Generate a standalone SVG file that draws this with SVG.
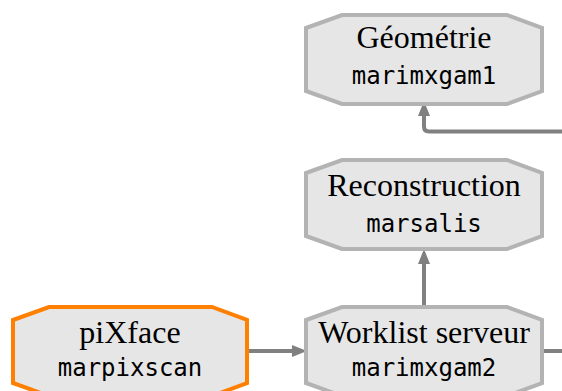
<svg xmlns="http://www.w3.org/2000/svg" width="562" height="391" viewBox="0 0 562 391">
<style>
.node{fill:#e6e6e6;stroke:#b3b3b3;stroke-width:4;stroke-linejoin:miter}
.hl{stroke:#ff8000}
.t1{font-family:"Liberation Serif","DejaVu Serif",serif;font-size:32px;fill:#000;text-anchor:middle}
.t2{font-family:"DejaVu Sans Mono","Liberation Mono",monospace;font-size:24px;fill:#000;text-anchor:middle}
.edge{fill:none;stroke:#808080;stroke-width:4;stroke-linejoin:round}
</style>
<g id="connectors">
<path class="edge" d="M562,131.5 H429 Q424,131.5 424,126.5 V116"/>
<path d="M424,101 L430,116 L418,116 Z" fill="#808080"/>
<path class="edge" d="M424,307 V264"/>
<path d="M424,249 L430,264 L418,264 Z" fill="#808080"/>
<path class="edge" d="M247,351 H292"/>
<path d="M307,351 L292,345 L292,357 Z" fill="#808080"/>
<path class="edge" d="M542,351 H562"/>
</g>
<g id="geometrie">
<polygon class="node" points="342,15 507,15 542,28 542,91 507,104 342,104 306,91 306,28"/>
<text class="t1" x="424" y="48">Géométrie</text>
<text class="t2" x="424" y="84">marimxgam1</text>
</g>
<g id="reconstruction">
<polygon class="node" points="342,160 507,160 542,173 542,236 507,249 342,249 306,236 306,173"/>
<text class="t1" x="424" y="196">Reconstruction</text>
<text class="t2" x="424" y="232">marsalis</text>
</g>
<g id="pixface">
<polygon class="node hl" points="49,307 212,307 247,320 247,383 212,396 49,396 13,383 13,320"/>
<text class="t1" x="130" y="343">piXface</text>
<text class="t2" x="130" y="376">marpixscan</text>
</g>
<g id="worklist">
<polygon class="node" points="342,307 507,307 542,320 542,383 507,396 342,396 306,383 306,320"/>
<text class="t1" x="424" y="343">Worklist serveur</text>
<text class="t2" x="424" y="376">marimxgam2</text>
</g>
</svg>
